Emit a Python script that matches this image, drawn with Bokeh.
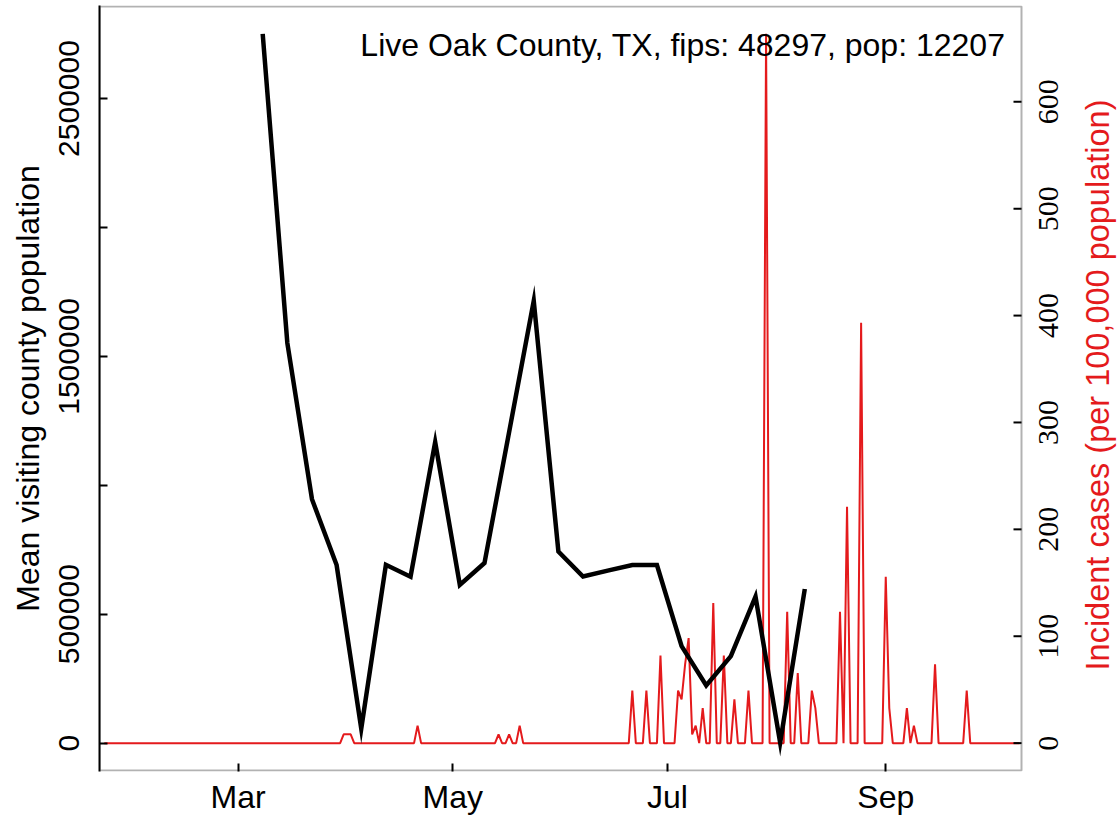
import math
import numpy as np
import pandas as pd
from bokeh.plotting import figure
from bokeh.models import (Range1d, LinearAxis, DatetimeAxis, FixedTicker, BoxAnnotation,
                          CustomJSTickFormatter, Label, LabelSet, ColumnDataSource)
from bokeh.embed import file_html
from bokeh.resources import INLINE

# ---------------- data ----------------
county_label = "Live Oak County, TX, fips: 48297, pop: 12207"
population = 12207

visit_dates = ["2020-03-08", "2020-03-15", "2020-03-22", "2020-03-29", "2020-04-05",
               "2020-04-12", "2020-04-19", "2020-04-26", "2020-05-03", "2020-05-10",
               "2020-05-17", "2020-05-24", "2020-05-31", "2020-06-07", "2020-06-14",
               "2020-06-21", "2020-06-28", "2020-07-05", "2020-07-12", "2020-07-19",
               "2020-07-26", "2020-08-02", "2020-08-09"]
mean_visiting_pop = [2750600, 1551800, 945900, 690600, 56500,
                     691800, 645400, 1167400, 613300, 698400,
                     1206100, 1715400, 743200, 646200, 669000,
                     690600, 690600, 376300, 223900, 337600,
                     568100, 2000, 597800]

case_series_start = "2020-01-23"
case_series_end = "2020-10-09"
case_dates = ["2020-03-31", "2020-04-01", "2020-04-02", "2020-04-21", "2020-05-14",
              "2020-05-17", "2020-05-20", "2020-06-21", "2020-06-25", "2020-06-29",
              "2020-07-04", "2020-07-05", "2020-07-06", "2020-07-07", "2020-07-08",
              "2020-07-09", "2020-07-11", "2020-07-14", "2020-07-17", "2020-07-20",
              "2020-07-24", "2020-07-29", "2020-08-04", "2020-08-07", "2020-08-11",
              "2020-08-12", "2020-08-19", "2020-08-21", "2020-08-25", "2020-09-01",
              "2020-09-02", "2020-09-07", "2020-09-09", "2020-09-15", "2020-09-24"]
case_counts = [1, 1, 1, 2, 1,
               1, 2, 6, 6, 10,
               6, 5, 9, 12, 1,
               2, 4, 16, 10, 5,
               6, 81, 15, 8, 6,
               4, 15, 27, 48, 19,
               4, 4, 2, 9, 6]

x_tick_dates = ["2020-03-01", "2020-05-01", "2020-07-01", "2020-09-01"]
x_tick_labels = ["Mar", "May", "Jul", "Sep"]
left_ticks = [0, 500000, 1000000, 1500000, 2000000, 2500000]
left_tick_labels = ["0", "500000", "", "1500000", "", "2500000"]
right_ticks = [0, 100, 200, 300, 400, 500, 600]
right_tick_labels = ["0", "100", "200", "300", "400", "500", "600"]

left_title = "Mean visiting county population"
right_title = "Incident cases (per 100,000 population)"

# ---------------- build tables ----------------
days = pd.date_range(case_series_start, case_series_end, freq="D")
daily = pd.Series(0.0, index=days)
for d, c in zip(case_dates, case_counts):
    daily[pd.Timestamp(d)] = c
incidence = daily.values * 100000.0 / population
red_src = ColumnDataSource(dict(date=days, inc=incidence))
blk_src = ColumnDataSource(dict(date=pd.to_datetime(visit_dates), pop=mean_visiting_pop))

RED = "#E41A1C"
FONT = "Liberation Sans"

m1 = max(mean_visiting_pop)
m2 = float(incidence.max())

W, H = 1119, 817
FL, FR, FT, FB = 99, 1021, 5, 773       # plot box edges in page pixels
X0, X1 = pd.Timestamp("2020-01-21 15:20"), pd.Timestamp("2020-10-09 13:30")
L0, L1 = -0.04 * m1, 1.04 * m1
R0, R1 = -0.04 * m2, 1.04 * m2

def px_to_date(px):
    return X0 + (X1 - X0) * ((px - FL) / (FR - FL))

def py_to_left(py):
    return L1 - (py - FT) / (FB - FT) * (L1 - L0)

def py_to_right(py):
    return R1 - (py - FT) / (FB - FT) * (R1 - R0)

# the drawing area runs to the right page edge so that the right-hand axis texts
# (which read bottom-to-top) can be drawn; the plot box is drawn explicitly
p = figure(width=W, height=H, output_backend="svg", toolbar_location=None,
           x_axis_type=None, y_axis_location=None,
           x_range=Range1d(X0, px_to_date(W)), y_range=Range1d(L0, L1),
           min_border_left=FL, min_border_right=0, min_border_top=FT,
           min_border_bottom=H - FB)
p.extra_y_ranges = {"cases": Range1d(R0, R1)}
p.xgrid.visible = False
p.ygrid.visible = False
p.outline_line_color = None
p.background_fill_color = "white"
p.border_fill_color = "white"

p.line("date", "inc", source=red_src, y_range_name="cases", line_color=RED, line_width=2)
p.line("date", "pop", source=blk_src, line_color="black", line_width=4.5, line_join="miter")

# plot box
p.add_layout(BoxAnnotation(left=X0, right=px_to_date(FR), bottom=py_to_left(FB - 1),
                           top=py_to_left(FT + 1), fill_alpha=0, line_color="black",
                           line_width=2))

def style_axis(ax, size):
    ax.major_label_text_font = FONT
    ax.major_label_text_font_size = size
    ax.major_label_text_color = "black"
    ax.axis_label_text_font = FONT
    ax.axis_label_text_font_size = "32px"
    ax.axis_label_text_font_style = "normal"
    ax.axis_label_text_color = "black"
    ax.axis_line_color = "black"
    ax.axis_line_width = 2
    ax.major_tick_in = 8
    ax.major_tick_out = 0
    ax.major_tick_line_width = 2
    ax.minor_tick_in = 0
    ax.minor_tick_out = 0

# bottom axis
xt = [pd.Timestamp(d).value // 10**6 for d in x_tick_dates]
xax = DatetimeAxis(ticker=FixedTicker(ticks=xt))
xax.major_label_overrides = {t: lab for t, lab in zip(xt, x_tick_labels)}
style_axis(xax, "32px")
xax.axis_line_color = None
xax.major_label_standoff = 7
p.add_layout(xax, "below")

# left axis
lax = LinearAxis(ticker=FixedTicker(ticks=left_ticks),
                 formatter=CustomJSTickFormatter(
                     args=dict(tvals=left_ticks, tlabs=left_tick_labels),
                     code="const i = tvals.indexOf(tick); return i >= 0 ? tlabs[i] : '';"),
                 axis_label=left_title)
style_axis(lax, "30px")
lax.major_label_orientation = "parallel"
lax.major_label_standoff = 20
lax.axis_label_standoff = 11
p.add_layout(lax, "left")

# right-hand axis for incident cases: inward ticks, labels and title
tick_src = ColumnDataSource(dict(x0=[px_to_date(FR - 8)] * len(right_ticks),
                                 x1=[px_to_date(FR)] * len(right_ticks),
                                 y=right_ticks))
p.segment(x0="x0", x1="x1", y0="y", y1="y", source=tick_src, y_range_name="cases",
          line_color="black", line_width=2)

rlab_src = ColumnDataSource(dict(x=[px_to_date(1048)] * len(right_ticks),
                                 y=right_ticks, text=right_tick_labels))
p.add_layout(LabelSet(x="x", y="y", text="text", source=rlab_src, y_range_name="cases",
                      angle=math.pi / 2, text_align="center", text_baseline="middle",
                      text_font=FONT, text_font_size="30px", text_color="black"))

p.add_layout(Label(x=px_to_date(1097), y=py_to_right(385.5), y_range_name="cases",
                   text=right_title, angle=math.pi / 2, text_align="center",
                   text_baseline="middle", text_font=FONT, text_font_size="32.5px",
                   text_color=RED))

p.add_layout(Label(x=px_to_date(1005), y=py_to_left(45), text=county_label,
                   text_align="right", text_baseline="middle",
                   text_font=FONT, text_font_size="32px", text_color="black"))

open("out.html", "w").write(file_html(p, INLINE))
